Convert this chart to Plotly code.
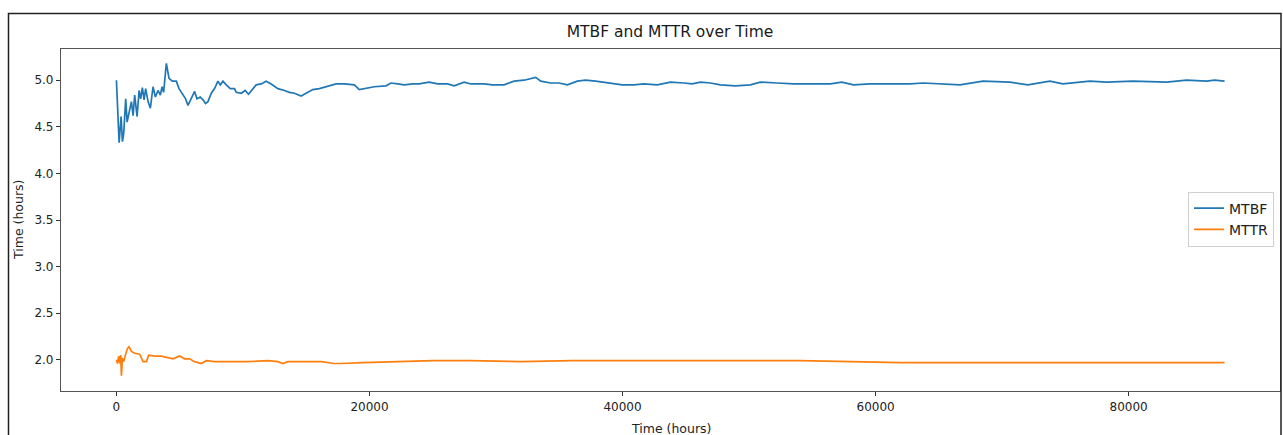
import plotly.graph_objects as go

# MTBF series (time in hours, value in hours)
mtbf_t = [0, 213, 371, 473, 576, 734, 844, 1002, 1184, 1318, 1444, 1633, 1791, 1917, 2051,
          2186, 2312, 2501, 2683, 2896, 3077, 3290, 3472, 3606, 3732, 3945, 4158, 4418, 4734,
          4947, 5263, 5468, 5657, 5918, 6178, 6367, 6628, 6841, 7046, 7235, 7496, 7756, 8024,
          8206, 8419, 8679, 8995, 9334, 9468, 9863, 10178, 10438, 11046, 11441, 11835, 12230,
          12758, 13279, 13673, 14068, 14597, 14991, 15520, 16040, 16569, 16964, 17358, 18013,
          18802, 19197, 19591, 20380, 21303, 21698, 22226, 22747, 23410, 23930, 24719, 25382,
          26171, 26692, 27481, 28010, 29059, 29722, 30637, 31426, 32215, 33138, 33533, 34322,
          34977, 35640, 36429, 37083, 37872, 38401, 39190, 39979, 40894, 41683, 42740, 43790,
          44839, 45502, 46157, 46946, 47735, 48918, 50102, 50891, 52208, 53518, 54836, 56414,
          57337, 58252, 59570, 61148, 62726, 63775, 65093, 66671, 68485, 70616, 72036, 73772,
          74797, 76928, 78269, 80320, 83003, 84581, 86159, 86790, 87579]
mtbf_v = [5.00, 4.33, 4.61, 4.34, 4.43, 4.80, 4.55, 4.66, 4.77, 4.62, 4.84, 4.61, 4.89, 4.80, 4.92,
          4.79, 4.91, 4.77, 4.70, 4.93, 4.82, 4.89, 4.84, 4.93, 4.87, 5.18, 5.02, 4.99, 4.99,
          4.91, 4.84, 4.80, 4.73, 4.80, 4.88, 4.80, 4.82, 4.79, 4.75, 4.77, 4.86, 4.91, 4.99,
          4.95, 4.99, 4.95, 4.91, 4.91, 4.87, 4.86, 4.89, 4.85, 4.95, 4.96, 4.99, 4.96,
          4.91, 4.89, 4.87, 4.86, 4.83, 4.86, 4.90, 4.91, 4.93, 4.95, 4.96, 4.96,
          4.95, 4.90, 4.91, 4.93, 4.94, 4.97, 4.96, 4.95, 4.96, 4.96, 4.98, 4.96,
          4.96, 4.94, 4.98, 4.96, 4.96, 4.95, 4.95, 4.99, 5.00, 5.03, 4.99, 4.97,
          4.97, 4.95, 4.99, 5.00, 4.99, 4.98, 4.97, 4.95, 4.95, 4.96, 4.95, 4.98,
          4.97, 4.96, 4.98, 4.97, 4.95, 4.94, 4.95, 4.98, 4.97, 4.96, 4.96, 4.96,
          4.98, 4.95, 4.96, 4.96, 4.96, 4.97, 4.96, 4.95, 4.99, 4.98, 4.95, 4.99,
          4.96, 4.99, 4.98, 4.99, 4.98, 5.00, 4.99, 5.00, 4.99]

# MTTR series
mttr_t = [0, 79, 181, 260, 339, 394, 473, 576, 710, 868, 1002, 1184, 1444, 1838, 2107, 2367,
          2549, 3022, 3550, 4079, 4474, 4994, 5389, 5783, 6178, 6707, 7101, 7756, 9334, 10391,
          11970, 12758, 13153, 13547, 15387, 16174, 17230, 17760, 19500, 22000, 25000, 28000,
          32000, 36000, 40000, 45000, 50000, 54000, 58000, 62000, 66000, 70000, 75000, 80000,
          84000, 87579]
mttr_v = [2.00, 1.96, 2.04, 1.96, 2.05, 1.83, 2.02, 1.98, 2.05, 2.12, 2.14, 2.09, 2.07, 2.06,
          1.98, 1.98, 2.05, 2.04, 2.04, 2.02, 2.01, 2.04, 2.01, 2.01, 1.98, 1.96, 1.99, 1.98,
          1.98, 1.98, 1.99, 1.98, 1.96, 1.98, 1.98, 1.98, 1.96, 1.96, 1.97, 1.98, 1.99, 1.99,
          1.98, 1.99, 1.99, 1.99, 1.99, 1.99, 1.98, 1.97, 1.97, 1.97, 1.97, 1.97, 1.97, 1.97]

x_ticks = [0, 20000, 40000, 60000, 80000]
y_ticks = [2.0, 2.5, 3.0, 3.5, 4.0, 4.5, 5.0]

FONT = "DejaVu Sans"
fig = go.Figure()
fig.add_trace(go.Scatter(x=mtbf_t, y=mtbf_v, mode="lines", name="MTBF",
                         line=dict(color="#1f77b4", width=1.7)))
fig.add_trace(go.Scatter(x=mttr_t, y=mttr_v, mode="lines", name="MTTR",
                         line=dict(color="#ff7f0e", width=1.7)))

L, R, T, B = 61, 3, 49, 44
W, H = 1283, 435
pw, ph = W - L - R, H - T - B

def px_x(p):
    return (p - L) / pw

def px_y(p):
    return (H - B - p) / ph

fig.update_layout(
    width=W, height=H,
    margin=dict(l=L, r=R, t=T, b=B, autoexpand=False),
    paper_bgcolor="white", plot_bgcolor="white",
    font=dict(family=FONT, size=12, color="#222"),
    title=dict(text="MTBF and MTTR over Time", x=670 / W, xanchor="center",
               y=1 - 32 / H, yanchor="middle", font=dict(size=15.5, color="#1a1a1a")),
    legend=dict(x=px_x(1274), xanchor="right", y=px_y(219), yanchor="middle",
                bordercolor="#d0d0d0", borderwidth=1, bgcolor="white",
                font=dict(size=14, color="#222")),
    showlegend=True,
)
fig.update_xaxes(range=[-4380, 91960], tickvals=x_ticks, ticktext=[str(v) for v in x_ticks],
                 showgrid=False, zeroline=False, showline=True, mirror=True,
                 linecolor="#555", linewidth=1.2, ticks="outside", ticklen=4, tickcolor="#333")
fig.update_yaxes(range=[1.665, 5.335], tickvals=y_ticks, ticktext=[f"{v:.1f}" for v in y_ticks],
                 showgrid=False, zeroline=False, showline=True, mirror=True,
                 linecolor="#555", linewidth=1.2, ticks="outside", ticklen=4, tickcolor="#333")

# axis titles
fig.add_annotation(text="Time (hours)", xref="paper", yref="paper", x=0.5, y=px_y(428),
                   xanchor="center", yanchor="middle", showarrow=False, font=dict(size=12.5))
fig.add_annotation(text="Time (hours)", xref="paper", yref="paper", x=px_x(18), y=0.5,
                   xanchor="center", yanchor="middle", showarrow=False, textangle=-90,
                   font=dict(size=12.5))

# outer frame of the original figure
fig.add_shape(type="rect", xref="paper", yref="paper",
              x0=px_x(8.5), x1=px_x(1281), y0=px_y(445), y1=px_y(13.5),
              line=dict(color="#222", width=1.5), fillcolor="rgba(0,0,0,0)", layer="above")

fig.write_html("out.html")
